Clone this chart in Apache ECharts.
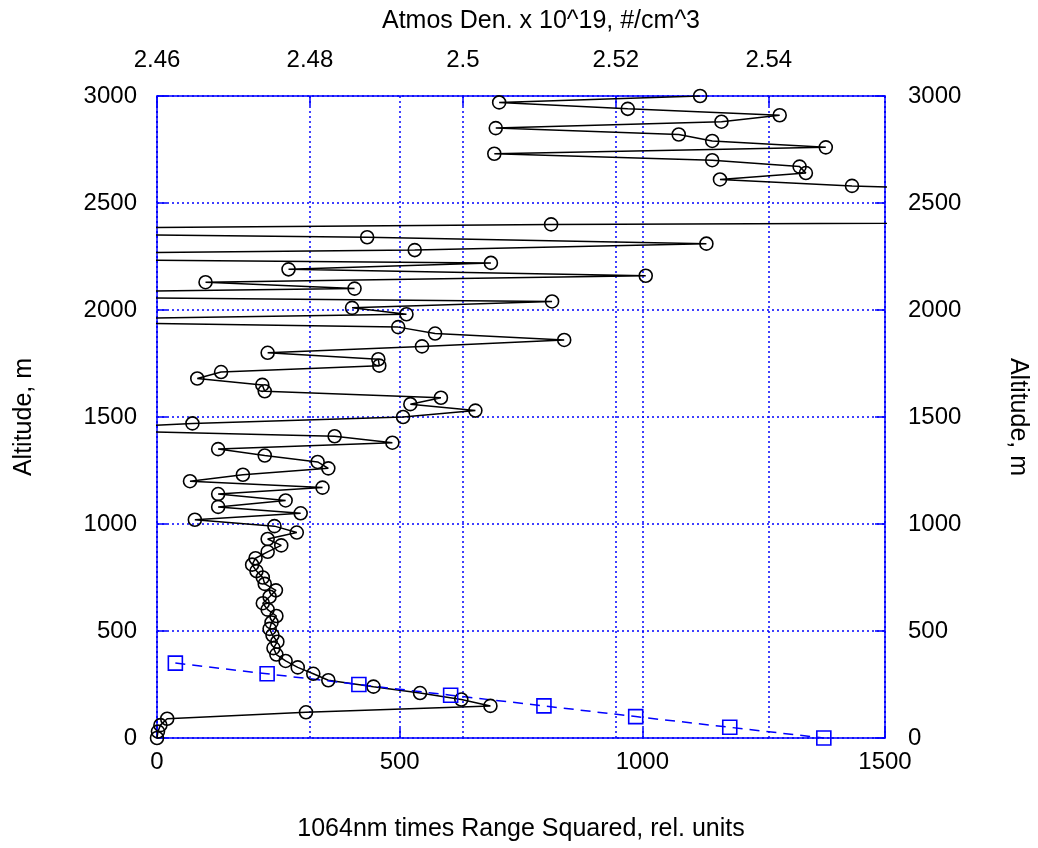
<!DOCTYPE html>
<html>
<head>
<meta charset="utf-8">
<script src="https://cdn.jsdelivr.net/npm/echarts@6/dist/echarts.min.js"></script>
<style>
html,body{margin:0;padding:0;background:#fff;}
#chart{width:1038px;height:848px;}
</style>
</head>
<body>
<div id="chart"></div>
<script>
// Lidar profile: altitude (m) and 1064nm times range squared (rel. units)
const lidarAltitude = [
  3000, 2970, 2940, 2910, 2880, 2850, 2820, 2790, 2760, 2730,
  2700, 2670, 2640, 2610, 2580, 2550, 2520, 2490, 2460, 2430,
  2400, 2370, 2340, 2310, 2280, 2250, 2220, 2190, 2160, 2130,
  2100, 2070, 2040, 2010, 1980, 1950, 1920, 1890, 1860, 1830,
  1800, 1770, 1740, 1710, 1680, 1650, 1620, 1590, 1560, 1530,
  1500, 1470, 1440, 1410, 1380, 1350, 1320, 1290, 1260, 1230,
  1200, 1170, 1140, 1110, 1080, 1050, 1020, 990, 960, 930,
  900, 870, 840, 810, 780, 750, 720, 690, 660, 630,
  600, 570, 540, 510, 480, 450, 420, 390, 360, 330,
  300, 270, 240, 210, 180, 150, 120, 90, 60, 30,
  0
];
const lidarSignal = [
  1119, 705, 970, 1283, 1163, 698, 1075, 1144, 1378, 695,
  1144, 1324, 1337, 1160, 1432, 1840, 3100, 2700, 3900, 4900,
  812, -812, 433, 1132, 531, -900, 688, 271, 1007, 100,
  407, -700, 814, 402, 514, -400, 497, 573, 839, 546,
  228, 456, 458, 132, 83, 217, 222, 585, 522, 656,
  507, 73, -183, 366, 485, 126, 222, 331, 353, 177,
  68, 341, 126, 265, 126, 296, 78, 242, 288, 228,
  256, 228, 203, 196, 205, 218, 222, 245, 232, 218,
  228, 246, 236, 232, 238, 248, 240, 246, 265, 290,
  322, 353, 446, 542, 627, 687, 307, 21, 7, 2,
  0
];
// Atmospheric density x 10^19 #/cm^3
const densAltitude = [350, 300, 250, 200, 150, 100, 50, 0];
const densValue = [2.4624, 2.4744, 2.4864, 2.4984, 2.5106, 2.5226, 2.5349, 2.5472];

const bottomTicks = [0, 500, 1000, 1500];
const topTicks = [2.46, 2.48, 2.5, 2.52, 2.54];
const altTicks = [0, 500, 1000, 1500, 2000, 2500, 3000];

const lidarData = lidarSignal.map((v, i) => [v, lidarAltitude[i]]);
const densData = densValue.map((v, i) => [v, densAltitude[i]]);

const BLUE = '#0000ff';
const FONT = 'Liberation Sans, Arial, sans-serif';
const plain = v => String(v);
const labelStyle = {color: '#000', fontSize: 24, fontFamily: FONT};
const nameStyle = {color: '#000', fontSize: 25, fontFamily: FONT};
const gridLine = {show: true, lineStyle: {color: BLUE, type: [2, 3], width: 1.5}};
const axisLine = {show: true, onZero: false, lineStyle: {color: BLUE, width: 1.5}};
const axisTick = {show: true, inside: true, length: 10, lineStyle: {color: BLUE, width: 1.5}};

const chart = echarts.init(document.getElementById('chart'), null, {renderer: 'canvas'});
chart.setOption({
  animation: false,
  backgroundColor: '#fff',
  grid: {left: 157, right: 151, top: 96, bottom: 110, containLabel: false},
  xAxis: [
    {
      type: 'value', position: 'bottom',
      min: bottomTicks[0], max: bottomTicks[bottomTicks.length - 1], interval: 500,
      name: '1064nm times Range Squared, rel. units', nameLocation: 'middle', nameGap: 79,
      nameTextStyle: nameStyle,
      axisLine: axisLine, axisTick: axisTick,
      axisLabel: Object.assign({margin: 12, formatter: plain}, labelStyle),
      splitLine: gridLine
    },
    {
      type: 'value', position: 'top',
      min: topTicks[0], max: 2.5552, interval: 0.02,
      name: 'Atmos Den. x 10^19, #/cm^3', nameLocation: 'middle', nameGap: 62,
      nameTextStyle: Object.assign({padding: [0, 0, 0, 40]}, nameStyle),
      axisLine: axisLine, axisTick: axisTick,
      axisLabel: Object.assign({
        margin: 24, showMaxLabel: false,
        formatter: function (v) {
          for (const t of topTicks) { if (Math.abs(v - t) < 1e-6) return String(t); }
          return '';
        }
      }, labelStyle),
      splitLine: gridLine
    }
  ],
  yAxis: [
    {
      type: 'value', position: 'left',
      min: altTicks[0], max: altTicks[altTicks.length - 1], interval: 500,
      name: 'Altitude, m', nameLocation: 'middle', nameGap: 120, nameRotate: 90,
      nameTextStyle: nameStyle,
      axisLine: axisLine, axisTick: axisTick,
      axisLabel: Object.assign({margin: 20, formatter: plain}, labelStyle),
      splitLine: gridLine
    },
    {
      type: 'value', position: 'right',
      min: altTicks[0], max: altTicks[altTicks.length - 1], interval: 500,
      name: 'Altitude, m', nameLocation: 'middle', nameGap: 120, nameRotate: -90,
      nameTextStyle: nameStyle,
      axisLine: axisLine, axisTick: axisTick,
      axisLabel: Object.assign({margin: 23, formatter: plain}, labelStyle),
      splitLine: {show: false}
    }
  ],
  series: [
    {
      type: 'line', xAxisIndex: 0, yAxisIndex: 0,
      data: lidarData,
      clip: true, showAllSymbol: true,
      symbol: 'circle', symbolSize: 13,
      itemStyle: {color: 'rgba(0,0,0,0)', borderColor: '#000', borderWidth: 1.6},
      lineStyle: {color: '#000', width: 1.5},
      emphasis: {disabled: true}
    },
    {
      type: 'line', xAxisIndex: 1, yAxisIndex: 0,
      data: densData,
      clip: true, showAllSymbol: true,
      symbol: 'rect', symbolSize: 14,
      itemStyle: {color: 'rgba(0,0,0,0)', borderColor: BLUE, borderWidth: 1.6},
      lineStyle: {color: BLUE, width: 1.5, type: [10, 7]},
      emphasis: {disabled: true}
    }
  ]
});
</script>
</body>
</html>
